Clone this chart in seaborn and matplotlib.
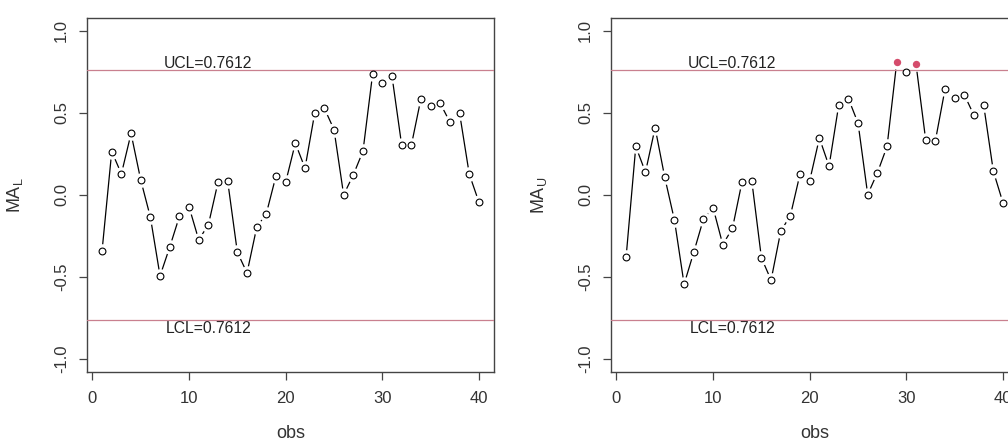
# moving average control charts (lower / upper), two panels side by side
import matplotlib
matplotlib.use("Agg")
import matplotlib.pyplot as plt
import numpy as np
import seaborn as sns
import pandas as pd

obs = list(range(1, 41))
ma_lower = [-0.341, 0.264, 0.128, 0.374, 0.091, -0.136, -0.494, -0.319, -0.132, -0.073,
            -0.274, -0.183, 0.077, 0.083, -0.350, -0.476, -0.199, -0.114, 0.116, 0.077,
            0.315, 0.163, 0.496, 0.528, 0.398, 0.000, 0.122, 0.266, 0.738, 0.681,
            0.724, 0.305, 0.301, 0.587, 0.543, 0.557, 0.443, 0.496, 0.126, -0.045]
ma_upper = [-0.378, 0.295, 0.138, 0.409, 0.106, -0.154, -0.545, -0.350, -0.148, -0.079,
            -0.303, -0.205, 0.081, 0.087, -0.384, -0.520, -0.222, -0.126, 0.128, 0.087,
            0.346, 0.175, 0.547, 0.587, 0.437, 0.002, 0.134, 0.295, 0.807, 0.750,
            0.795, 0.335, 0.329, 0.644, 0.593, 0.610, 0.484, 0.547, 0.144, -0.049]
ucl = 0.7612
lcl = -0.7612
ylabels = [r"$\mathrm{MA}_\mathrm{L}$", r"$\mathrm{MA}_\mathrm{U}$"]

sns.set_style("ticks")
plt.rcParams['font.family'] = ['Liberation Sans', 'DejaVu Sans']
plt.rcParams['mathtext.fontset'] = 'custom'
plt.rcParams['mathtext.rm'] = 'Liberation Sans'
plt.rcParams['mathtext.it'] = 'Liberation Sans:italic'

red = '#d54c6c'
limit_col = '#c9808f'
frame = '#444444'

fig = plt.figure(figsize=(10.08, 4.42), dpi=100)
ax1 = fig.add_axes([0.0863, 0.1584, 0.4038, 0.8016])
ax2 = fig.add_axes([0.6062, 0.1584, 0.4038, 0.8016])

for ax, vals, ylab in zip([ax1, ax2], [ma_lower, ma_upper], ylabels):
    df = pd.DataFrame({'obs': obs, 'ma': vals})
    out = df[df['ma'] > ucl]
    inside = df[df['ma'] <= ucl]

    sns.lineplot(data=df, x='obs', y='ma', color='black', lw=0.9, ax=ax, zorder=2)
    # white discs to leave gaps around the points (like R type="b")
    sns.scatterplot(data=df, x='obs', y='ma', color='white', edgecolor='white',
                    s=110, linewidth=0, ax=ax, zorder=3)
    # control limits drawn over the gap discs so they stay unbroken
    ax.axhline(ucl, color=limit_col, lw=0.9, zorder=3.5)
    ax.axhline(lcl, color=limit_col, lw=0.9, zorder=3.5)
    sns.scatterplot(data=inside, x='obs', y='ma', facecolor='white', edgecolor='black',
                    s=24, linewidth=0.8, ax=ax, zorder=4)
    sns.scatterplot(data=out, x='obs', y='ma', color=red, edgecolor=red,
                    s=28, linewidth=0, ax=ax, zorder=4)

    ax.text(12, 0.80, "UCL=0.7612", ha='center', va='center', fontsize=11.3, color='#222222')
    ax.text(12, -0.817, "LCL=0.7612", ha='center', va='center', fontsize=11.3, color='#222222')

    ax.set_xlim(-0.56, 41.56)
    ax.set_ylim(-1.08, 1.08)
    ax.set_xticks([0, 10, 20, 30, 40])
    ax.set_yticks([-1.0, -0.5, 0.0, 0.5, 1.0])
    ax.set_yticklabels(["-1.0", "-0.5", "0.0", "0.5", "1.0"])
    ax.tick_params(axis='both', length=6, width=0.9, color=frame, labelcolor='#333333', labelsize=12)
    ax.tick_params(axis='x', pad=8)
    ax.tick_params(axis='y', pad=7)
    plt.setp(ax.get_yticklabels(), rotation=90, va='center')
    for sp in ax.spines.values():
        sp.set_visible(True)
        sp.set_color(frame)
        sp.set_linewidth(1.0)

    ax.set_xlabel("obs", fontsize=13, color='#333333')
    ax.set_ylabel(ylab, fontsize=13, color='#333333')
    ax.xaxis.set_label_coords(0.5, -0.15)
    ax.yaxis.set_label_coords(-0.152, 0.5)

fig.savefig("out.png", dpi=100)
